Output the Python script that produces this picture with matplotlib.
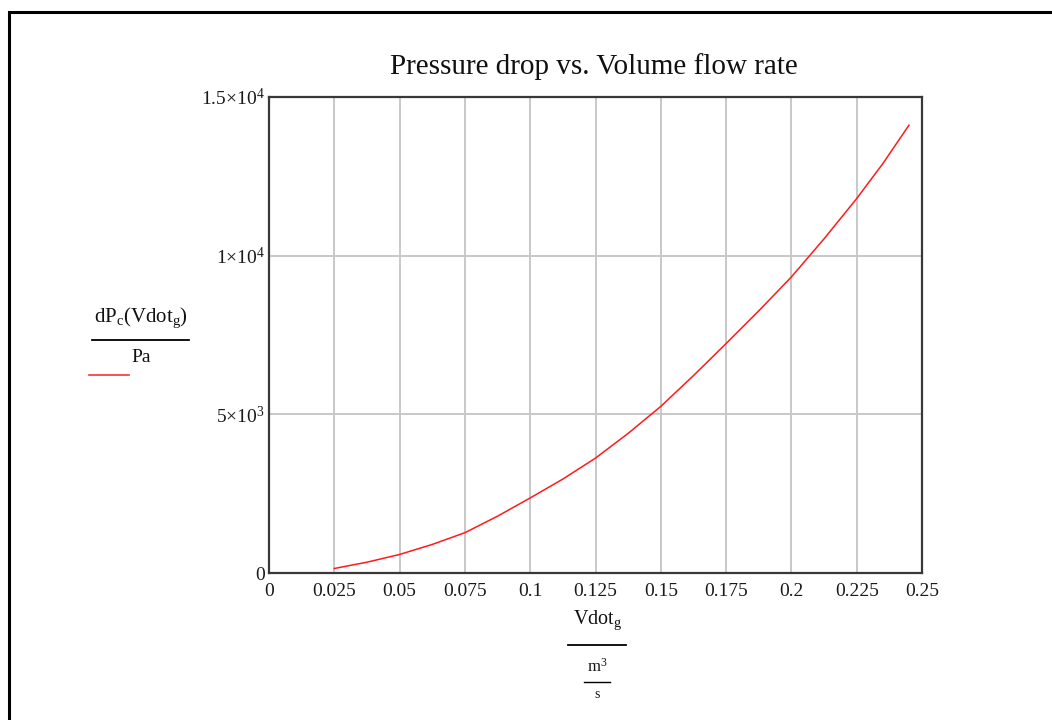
import matplotlib
matplotlib.use("Agg")
import matplotlib.pyplot as plt
from matplotlib.patches import Rectangle
from matplotlib.lines import Line2D

# serif look, like the Mathcad plot
plt.rcParams['font.family'] = ['Liberation Serif', 'DejaVu Serif']
plt.rcParams['mathtext.fontset'] = 'custom'
plt.rcParams['mathtext.rm'] = 'Liberation Serif'
plt.rcParams['mathtext.it'] = 'Liberation Serif:italic'

# values
flow_rate = [0.025, 0.0375, 0.05, 0.0625, 0.075, 0.0875, 0.1, 0.1125, 0.125,
             0.1375, 0.15, 0.1625, 0.175, 0.1875, 0.2, 0.2125, 0.225, 0.235, 0.245]
pressure_drop = [142, 340, 584, 900, 1270, 1790, 2365, 2960, 3620,
                 4400, 5250, 6220, 7230, 8260, 9330, 10530, 11800, 12900, 14110]

x_ticks = [0, 0.025, 0.05, 0.075, 0.1, 0.125, 0.15, 0.175, 0.2, 0.225, 0.25]
x_tick_labels = ['0', '0.025', '0.05', '0.075', '0.1', '0.125', '0.15',
                 '0.175', '0.2', '0.225', '0.25']
y_ticks = [0, 5000, 10000, 15000]
y_tick_labels = ['0', r'5×10$^{3}$', r'1×10$^{4}$', r'1.5×10$^{4}$']

W, H = 1052, 720
fig = plt.figure(figsize=(W / 100, H / 100), dpi=100)

def fx(px):
    return px / W

def fy(py):
    return 1 - py / H

# outer frame (runs off the right and bottom edges)
fig.patches.append(Rectangle((fx(9), fy(760)), fx(1100), fy(12) - fy(760),
                             transform=fig.transFigure, fill=False,
                             edgecolor='black', linewidth=2.2))

axes = fig.add_axes([fx(269), fy(573), fx(922) - fx(269), fy(97) - fy(573)])
axes.plot(flow_rate, pressure_drop, color='#ff1a1a', linewidth=1.1)

axes.set_xlim(0, 0.25)
axes.set_ylim(0, 15000)
axes.set_xticks(x_ticks)
axes.set_xticklabels(x_tick_labels)
axes.set_yticks(y_ticks)
axes.set_yticklabels(y_tick_labels)
axes.tick_params(length=0, labelsize=14, colors='#1a1a1a')
axes.tick_params(axis='x', pad=7)
axes.tick_params(axis='y', pad=3)
axes.grid(True, color='#c8c8c8', linewidth=1.4)
axes.set_axisbelow(True)
for s in axes.spines.values():
    s.set_color('#383838')
    s.set_linewidth(1.6)

fig.text(fx(594), fy(67), 'Pressure drop vs. Volume flow rate',
         ha='center', va='center', fontsize=21, color='#111111')

# y label as a fraction with legend line
fig.text(fx(141), fy(318), r'dP$_\mathrm{c}$(Vdot$_\mathrm{g}$)',
         ha='center', va='center', fontsize=15, color='#111111')
fig.add_artist(Line2D([fx(92), fx(189)], [fy(340), fy(340)], color='black', linewidth=1.3))
fig.text(fx(141), fy(357), 'Pa', ha='center', va='center', fontsize=14, color='#111111')
fig.add_artist(Line2D([fx(89), fx(129)], [fy(375), fy(375)], color='#ff3030', linewidth=1.2))

# x label as a stacked fraction
fig.text(fx(598), fy(620), r'Vdot$_\mathrm{g}$', ha='center', va='center',
         fontsize=14.5, color='#111111')
fig.add_artist(Line2D([fx(568), fx(626)], [fy(645), fy(645)], color='black', linewidth=1.3))
fig.text(fx(597), fy(667), r'm$^{3}$', ha='center', va='center', fontsize=12, color='#111111')
fig.add_artist(Line2D([fx(584), fx(610)], [fy(682), fy(682)], color='black', linewidth=1.0))
fig.text(fx(597), fy(695), 's', ha='center', va='center', fontsize=10, color='#111111')

fig.savefig('out.png', dpi=100)
